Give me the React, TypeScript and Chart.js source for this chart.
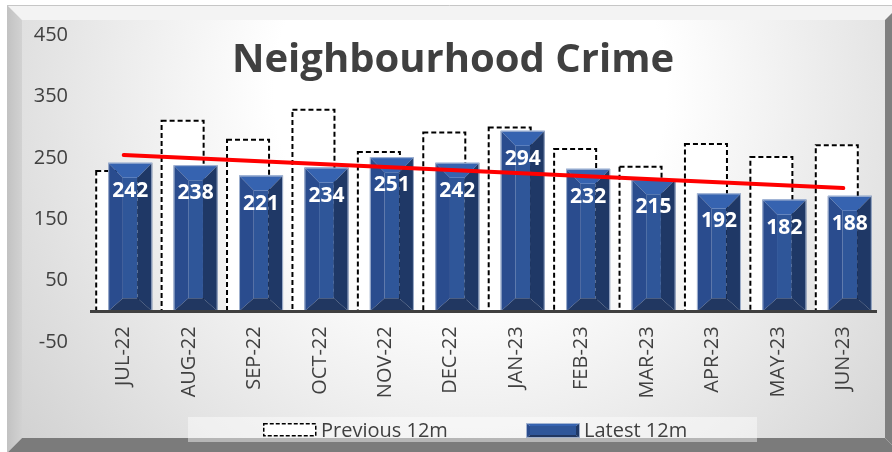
import React, { useEffect, useRef } from 'react';
import { Chart, registerables } from 'chart.js';

Chart.register(...registerables);

// ---- data ----
const categories = ['JUL-22', 'AUG-22', 'SEP-22', 'OCT-22', 'NOV-22', 'DEC-22', 'JAN-23', 'FEB-23', 'MAR-23', 'APR-23', 'MAY-23', 'JUN-23'];
const previous12m = [230, 312, 281, 330, 261, 293, 301, 266, 237, 274, 253, 272];
const latest12m = [242, 238, 221, 234, 251, 242, 294, 232, 215, 192, 182, 188];
const yMin = -50;
const yMax = 450;
const yStep = 100;
const seriesNames = ['Previous 12m', 'Latest 12m'];
const chartTitle = 'Neighbourhood Crime';

// least-squares linear trendline of the latest series (as Excel's trendline)
function linearTrend(values: number[]): number[] {
  const n = values.length;
  const mx = (n - 1) / 2;
  const my = values.reduce((a, b) => a + b, 0) / n;
  let sxy = 0;
  let sxx = 0;
  values.forEach((v, i) => {
    sxy += (i - mx) * (v - my);
    sxx += (i - mx) * (i - mx);
  });
  const slope = sxy / sxx;
  return values.map((_, i) => my + slope * (i - mx));
}

const FONT = '"Open Sans", "DejaVu Sans", sans-serif';
const TEXT = '#404040';

function poly(ctx: CanvasRenderingContext2D, pts: number[][], fill: any) {
  ctx.beginPath();
  ctx.moveTo(pts[0][0], pts[0][1]);
  for (let i = 1; i < pts.length; i++) ctx.lineTo(pts[i][0], pts[i][1]);
  ctx.closePath();
  ctx.fillStyle = fill;
  ctx.fill();
}

function drawBevelBar(ctx: CanvasRenderingContext2D, L: number, T: number, R: number, B: number, bx: number, bt: number, bb: number) {
  const w = R - L;
  const h = B - T;
  if (w <= 0 || h <= 0) return;
  const sx = Math.min(bx, w / 3);
  const st = Math.min(bt, h / 2);
  const sb = Math.min(bb, h / 2);
  const iL = L + sx, iR = R - sx, iT = T + st, iB = B - sb;
  poly(ctx, [[iL, iT], [iR, iT], [iR, iB], [iL, iB]], '#2f5699');
  poly(ctx, [[L, T], [R, T], [iR, iT], [iL, iT]], '#3663b0');
  poly(ctx, [[L, T], [iL, iT], [iL, iB], [L, B]], '#2a4c8e');
  poly(ctx, [[R, T], [R, B], [iR, iB], [iR, iT]], '#1f3866');
  poly(ctx, [[L, B], [iL, iB], [iR, iB], [R, B]], '#213761');
  ctx.save();
  ctx.strokeStyle = 'rgba(175,190,215,0.9)';
  ctx.lineWidth = 1;
  ctx.strokeRect(L + 0.5, T + 0.5, w - 1, h - 1);
  ctx.restore();
}

const customPlugin = {
  id: 'customLook',
  beforeDraw(chart: any) {
    const ctx: CanvasRenderingContext2D = chart.ctx;
    const W = chart.width;
    const H = chart.height;
    ctx.save();
    ctx.fillStyle = '#ffffff';
    ctx.fillRect(0, 0, W, H);
    const o = { l: 7, t: 5, r: 900, b: 453 };
    const i = { l: 22, t: 20, r: 885, b: 438 };
    poly(ctx, [[o.l, o.t], [o.r, o.t], [i.r, i.t], [i.l, i.t]], '#f3f3f3');
    const lg = ctx.createLinearGradient(o.l, 0, i.l, 0);
    lg.addColorStop(0, '#c2c2c2');
    lg.addColorStop(1, '#d2d2d2');
    poly(ctx, [[o.l, o.t], [i.l, i.t], [i.l, i.b], [o.l, o.b]], lg);
    poly(ctx, [[o.r, o.t], [o.r, o.b], [i.r, i.b], [i.r, i.t]], '#7f7f7f');
    poly(ctx, [[o.l, o.b], [i.l, i.b], [i.r, i.b], [o.r, o.b]], '#7b7b7b');
    const rg = ctx.createRadialGradient(470, 90, 0, 470, 90, 560);
    rg.addColorStop(0, '#ffffff');
    rg.addColorStop(0.35, '#ffffff');
    rg.addColorStop(1, '#d3d3d3');
    ctx.fillStyle = rg;
    ctx.fillRect(i.l, i.t, i.r - i.l, i.b - i.t);
    ctx.strokeStyle = '#c6c6c6';
    ctx.lineWidth = 1;
    ctx.beginPath();
    ctx.moveTo(o.l, o.t + 0.5);
    ctx.lineTo(W, o.t + 0.5);
    ctx.stroke();
    ctx.restore();
  },
  beforeDatasetDraw(chart: any, args: any) {
    const ctx: CanvasRenderingContext2D = chart.ctx;
    if (args.index === 0 || args.index === 1) return false;
    if (args.index === 2) {
      // previous 12m: white bars with dashed outline
      const prevMeta = chart.getDatasetMeta(0);
      ctx.save();
      prevMeta.data.forEach((el: any) => {
        const p = el.getProps(['x', 'y', 'base', 'width'], true);
        const L = p.x - p.width / 2;
        const T = Math.min(p.y, p.base);
        const h = Math.abs(p.base - p.y);
        ctx.fillStyle = '#ffffff';
        ctx.fillRect(L, T, p.width, h);
        ctx.setLineDash([5, 3]);
        ctx.lineWidth = 2;
        ctx.strokeStyle = '#000000';
        ctx.strokeRect(L + 1, T + 1, p.width - 2, h - 1);
      });
      ctx.restore();
      // latest 12m: bevelled blue bars
      const latMeta = chart.getDatasetMeta(1);
      latMeta.data.forEach((el: any) => {
        const p = el.getProps(['x', 'y', 'base', 'width'], true);
        drawBevelBar(ctx, p.x - p.width / 2, p.y, p.x + p.width / 2, p.base, 15, 15, 13);
      });
    }
    return true;
  },
  afterDraw(chart: any) {
    const ctx: CanvasRenderingContext2D = chart.ctx;
    ctx.save();
    // data labels
    const latMeta = chart.getDatasetMeta(1);
    ctx.fillStyle = '#ffffff';
    ctx.font = `bold 21px ${FONT}`;
    ctx.textAlign = 'center';
    ctx.textBaseline = 'middle';
    latMeta.data.forEach((el: any, idx: number) => {
      const p = el.getProps(['x', 'y'], true);
      ctx.fillText(String(latest12m[idx]), p.x, p.y + 28);
    });
    // title
    ctx.fillStyle = TEXT;
    ctx.font = `bold 40px ${FONT}`;
    ctx.textAlign = 'center';
    ctx.textBaseline = 'alphabetic';
    ctx.fillText(chartTitle, 453, 72);
    // legend
    ctx.fillStyle = 'rgba(255,255,255,0.45)';
    ctx.fillRect(188, 417, 569, 25);
    ctx.fillStyle = '#ffffff';
    ctx.fillRect(263, 423, 53, 13);
    ctx.setLineDash([4, 2]);
    ctx.lineWidth = 1.5;
    ctx.strokeStyle = '#000000';
    ctx.strokeRect(263.75, 423.75, 52, 12);
    ctx.setLineDash([]);
    drawBevelBar(ctx, 526, 423, 580, 438, 4, 3, 3);
    ctx.fillStyle = TEXT;
    ctx.font = `20px ${FONT}`;
    ctx.textAlign = 'left';
    ctx.fillText(seriesNames[0], 321, 437);
    ctx.fillText(seriesNames[1], 584, 437);
    ctx.restore();
  },
};

export default function App() {
  const ref = useRef<HTMLCanvasElement | null>(null);
  useEffect(() => {
    if (!ref.current) return;
    const chart = new Chart(ref.current, {
      type: 'bar',
      data: {
        labels: categories,
        datasets: [
          { type: 'bar', label: seriesNames[0], data: previous12m, backgroundColor: '#ffffff', order: 1, categoryPercentage: 0.3976, barPercentage: 3.385 } as any,
          { type: 'bar', label: seriesNames[1], data: latest12m, backgroundColor: '#2f5597', order: 2, categoryPercentage: 0.3976, barPercentage: 3.385 } as any,
          { type: 'line', label: 'Linear (Latest 12m)', data: linearTrend(latest12m), borderColor: '#ff0000', borderWidth: 4, pointRadius: 0, tension: 0, order: 0, borderCapStyle: 'round' } as any,
        ],
      },
      options: {
        responsive: false,
        animation: false,
        events: [],
        layout: { padding: { left: 0, right: 16, top: 30, bottom: 110 } },
        plugins: { legend: { display: false }, title: { display: false }, tooltip: { enabled: false } },
        scales: {
          x: {
            position: { y: 0 } as any,
            grid: { display: false, drawTicks: false },
            border: { display: true, color: '#404040', width: 3, z: 1 },
            ticks: { minRotation: 90, maxRotation: 90, autoSkip: false, padding: 15, color: TEXT, font: { family: FONT, size: 20 } },
            afterFit: (s: any) => { s.height = 0; },
          },
          y: {
            min: yMin,
            max: yMax,
            grid: { display: false, drawTicks: false },
            border: { display: false },
            ticks: { stepSize: yStep, padding: 23, color: TEXT, font: { family: FONT, size: 20 } },
            afterFit: (s: any) => { s.width = 91; },
          },
        },
      } as any,
      plugins: [customPlugin],
    });
    return () => chart.destroy();
  }, []);
  return (
    <div style={{ position: 'absolute', left: 0, top: 0, width: 892, height: 452 }}>
      <canvas ref={ref} width={892} height={452} style={{ display: 'block', width: 892, height: 452 }} />
    </div>
  );
}
